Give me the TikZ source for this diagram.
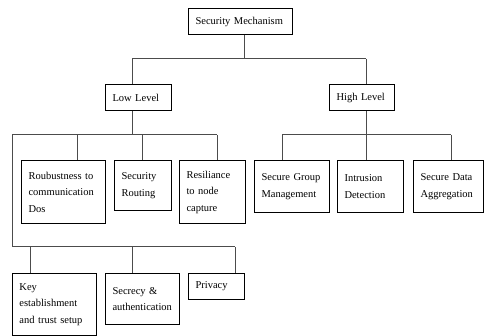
\documentclass[tikz,border=0pt]{standalone}
\usepackage{fontspec}
\setmainfont{Liberation Serif}
\begin{document}
\begin{tikzpicture}[x=1pt,y=-1pt,
  box/.style={draw=black, line width=1pt, anchor=north west, inner xsep=7pt, inner ysep=0pt,
    align=left, font=\fontsize{10.5}{16.5}\selectfont},
  conn/.style={draw=black!70, line width=1pt}]
\useasboundingbox[fill=white] (0,0) rectangle (484,336);
% boxes
\node[box, text width=90pt, minimum height=26pt] (top) at (188,8) {Security Mechanism};
\node[box, text width=52pt, minimum height=26pt] (low) at (105,84) {Low Level};
\node[box, text width=51pt, minimum height=26pt] (high) at (329,84) {High Level};
\node[box, text width=70pt, minimum height=63pt] (rob) at (21,160) {Roubustness to\\communication\\Dos};
\node[box, text width=43pt, minimum height=50pt] (srout) at (114,160) {Security\\Routing};
\node[box, text width=52pt, minimum height=63pt] (resil) at (179,160) {Resiliance\\to node\\capture};
\node[box, text width=61pt, minimum height=52pt] (sgm) at (254,160) {Secure Group\\Management};
\node[box, text width=52pt, minimum height=52pt] (intr) at (337,160) {Intrusion\\Detection};
\node[box, text width=56pt, minimum height=52pt] (sda) at (413,160) {Secure Data\\Aggregation};
\node[box, text width=70pt, minimum height=62pt] (key) at (12,273) {Key\\establishment\\and trust setup};
\node[box, text width=60pt, minimum height=51pt] (secr) at (105,273) {Secrecy \&\\authentication};
\node[box, text width=42pt, minimum height=26pt] (priv) at (188,273) {Privacy};
% bus coordinates
\coordinate (t0) at (244,59);
\coordinate (tL) at (132,59);
\coordinate (tR) at (366,59);
\coordinate (lb) at (132,135);
\coordinate (lL) at (12,135);
\coordinate (l1) at (77,135);
\coordinate (l2) at (142,135);
\coordinate (l3) at (217,135);
\coordinate (hb) at (366,135);
\coordinate (h1) at (282,135);
\coordinate (h3) at (451,135);
\coordinate (kL) at (12,247);
\coordinate (k1) at (30,247);
\coordinate (k2) at (132,247);
\coordinate (k3) at (235,247);
% connectors
\draw[conn] (t0 |- top.south) -- (t0);
\draw[conn] (tL) -- (tR);
\draw[conn] (tL) -- (tL |- low.north);
\draw[conn] (tR) -- (tR |- high.north);
\draw[conn] (lb |- low.south) -- (lb);
\draw[conn] (hb |- high.south) -- (hb);
\draw[conn] (lL) -- (l3);
\draw[conn] (l1) -- (l1 |- rob.north);
\draw[conn] (l2) -- (l2 |- srout.north);
\draw[conn] (l3) -- (l3 |- resil.north);
\draw[conn] (h1) -- (h3);
\draw[conn] (h1) -- (h1 |- sgm.north);
\draw[conn] (hb) -- (hb |- intr.north);
\draw[conn] (h3) -- (h3 |- sda.north);
\draw[conn] (lL) -- (kL) -- (k3);
\draw[conn] (k1) -- (k1 |- key.north);
\draw[conn] (k2) -- (k2 |- secr.north);
\draw[conn] (k3) -- (k3 |- priv.north);
\end{tikzpicture}
\end{document}
